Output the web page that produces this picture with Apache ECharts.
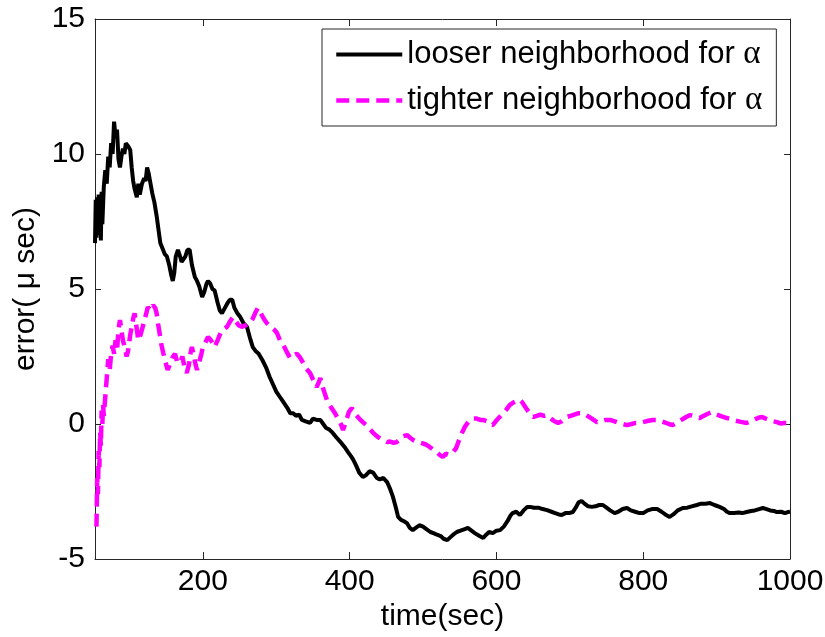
<!DOCTYPE html>
<html>
<head>
<meta charset="utf-8">
<script src="https://cdn.jsdelivr.net/npm/echarts@6/dist/echarts.min.js"></script>
<style>html,body{margin:0;padding:0;background:#fff;}#c{width:825px;height:637px;}</style>
</head>
<body>
<div id="c"></div>
<script>
// ---- data ----
const seriesNames = ["looser neighborhood for \u03b1", "tighter neighborhood for \u03b1"];
const xTicks = [200, 400, 600, 800, 1000];
const yTicks = [-5, 0, 5, 10, 15];

const blackTime = [53,54,55,56,57,58,59,60,61,62,63,65,67,69,71,73,75,77,79,81,83,85,87,89,91,93,95,98,101,103,105,107,110,112,114,117,120,122,124,126,128,131,134,137,140,142,145,148,151,154,157,159,161,163,166,169,171,173,176,179,182,185,189,192,195,199,202,205,207,210,213,216,220,223,226,230,234,237,240,243,247,251,255,260,264,268,272,276,281,286,291,295,300,305,310,315,319,323,327,331,335,340,346,350,355,360,364,368,372,377,382,387,393,398,402,405,409,413,418,422,427,432,437,441,446,451,455,459,463,466,470,474,478,482,486,490,495,500,505,510,515,519,524,528,533,537,541,546,551,556,561,566,571,577,582,586,590,595,600,605,610,615,619,622,627,632,637,642,646,651,657,663,669,675,680,685,689,694,699,704,708,712,716,720,725,730,735,740,745,750,755,761,766,772,778,783,789,795,800,806,812,819,825,830,836,841,847,854,860,866,873,879,885,891,897,904,910,914,918,924,930,935,941,947,952,958,963,968,973,978,982,988,993,997,1000];
const blackErr = [6.7,8.3,6.9,8.4,7.0,8.5,7.2,8.4,6.8,8.6,7.4,8.8,9.4,8.9,9.9,9.5,10.4,10.0,11.2,10.6,10.9,9.8,9.5,9.9,10.2,10.0,10.4,10.3,10.15,9.5,9.0,8.7,8.4,8.9,8.5,8.9,9.1,9.0,9.5,9.3,9.0,8.55,8.2,7.7,7.1,6.7,6.5,6.3,6.2,5.9,5.5,5.3,5.6,6.2,6.45,6.2,6.0,5.95,6.2,6.45,6.45,5.9,5.45,5.3,5.1,4.7,4.9,5.2,5.3,5.2,5.0,4.95,4.5,4.2,4.1,4.3,4.5,4.6,4.6,4.3,4.1,3.96,3.75,3.6,3.2,2.85,2.7,2.6,2.37,2.1,1.74,1.5,1.2,1.0,0.8,0.6,0.4,0.4,0.3,0.35,0.15,0.1,0.04,0.2,0.15,0.15,0.0,-0.15,-0.2,-0.33,-0.5,-0.65,-0.85,-1.05,-1.2,-1.33,-1.55,-1.8,-1.96,-1.9,-1.75,-1.8,-2.0,-2.05,-2.0,-2.15,-2.4,-2.7,-3.1,-3.44,-3.55,-3.6,-3.67,-3.85,-3.93,-3.85,-3.75,-3.8,-3.9,-4.0,-4.05,-4.1,-4.15,-4.25,-4.3,-4.2,-4.1,-4.0,-3.95,-3.9,-3.85,-3.95,-4.05,-4.15,-4.22,-4.1,-4.0,-4.04,-3.95,-3.93,-3.8,-3.6,-3.4,-3.3,-3.25,-3.37,-3.2,-3.07,-3.07,-3.1,-3.1,-3.15,-3.19,-3.25,-3.3,-3.35,-3.37,-3.3,-3.3,-3.26,-3.1,-2.9,-2.85,-2.95,-3.05,-3.07,-3.05,-3.0,-3.0,-3.1,-3.2,-3.3,-3.25,-3.15,-3.11,-3.2,-3.25,-3.3,-3.3,-3.2,-3.15,-3.15,-3.25,-3.35,-3.44,-3.35,-3.2,-3.11,-3.1,-3.05,-3.0,-2.95,-2.95,-2.93,-3.0,-3.07,-3.15,-3.25,-3.3,-3.3,-3.28,-3.3,-3.26,-3.22,-3.2,-3.15,-3.11,-3.15,-3.2,-3.22,-3.26,-3.25,-3.3,-3.26,-3.25];

const pinkTime = [55,56,57,58,59,60,61,62,63,64,65,67,69,71,73,75,77,79,81,83,85,87,89,91,94,96,98,101,103,105,107,109,112,115,118,121,125,129,132,135,137,139,141,143,146,149,152,155,159,162,165,169,172,175,178,181,183,185,188,190,192,195,198,200,203,207,211,214,216,220,223,226,230,233,237,241,245,249,253,258,264,268,272,275,279,283,287,292,297,301,305,310,315,319,324,328,332,337,341,346,351,355,358,360,364,369,374,380,385,388,391,395,399,403,408,413,418,423,428,432,437,442,446,451,455,460,464,469,473,478,482,487,492,497,503,509,514,519,523,527,531,536,541,545,549,553,557,561,564,568,573,578,582,587,591,595,599,604,609,614,618,622,627,631,635,640,645,650,655,660,665,669,674,679,684,689,693,696,701,706,712,718,724,730,737,743,749,755,761,766,772,778,784,790,795,801,807,813,819,825,830,835,840,846,852,858,864,870,877,882,888,894,900,907,914,920,926,933,941,947,953,958,962,967,972,977,982,987,992,996,1000];
const pinkErr = [-3.8,-2.0,-2.6,-1.0,-1.6,-0.3,-0.8,0.5,0.0,0.7,0.3,1.0,1.7,2.4,2.0,2.6,2.9,2.6,3.1,2.7,3.5,3.85,3.5,3.1,2.8,2.5,2.7,3.3,3.6,3.9,4.1,3.7,3.1,3.3,3.6,3.9,4.33,4.2,4.4,4.3,4.1,3.7,3.37,3.0,2.63,2.3,2.0,2.2,2.48,2.6,2.3,2.26,2.5,2.1,1.89,2.2,2.6,2.85,2.5,2.2,2.0,2.3,2.6,2.85,3.0,3.22,3.1,2.95,2.85,3.1,3.3,3.48,3.55,3.6,3.8,3.96,3.8,3.65,3.6,3.65,3.74,3.9,4.15,4.3,4.1,3.9,3.74,3.6,3.5,3.37,3.1,2.9,2.63,2.44,2.55,2.6,2.48,2.25,2.05,1.89,1.6,1.37,1.55,1.7,1.3,0.89,0.65,0.4,0.15,0.0,-0.22,0.1,0.45,0.59,0.35,0.2,0.07,-0.05,-0.2,-0.33,-0.45,-0.55,-0.6,-0.67,-0.65,-0.7,-0.67,-0.55,-0.45,-0.41,-0.5,-0.6,-0.67,-0.7,-0.75,-0.85,-0.95,-1.05,-1.15,-1.22,-1.1,-1.15,-1.04,-0.9,-0.6,-0.33,-0.1,0.05,0.15,0.2,0.2,0.15,0.15,0.1,0.0,-0.04,0.1,0.25,0.4,0.55,0.7,0.78,0.85,0.9,0.81,0.6,0.4,0.26,0.3,0.35,0.3,0.33,0.2,0.1,0.04,0.1,0.2,0.26,0.3,0.35,0.4,0.4,0.3,0.2,0.07,0.1,0.15,0.15,0.1,0.05,0.0,-0.04,0.0,0.04,0.04,0.08,0.12,0.15,0.15,0.1,0.05,0.0,-0.04,0.05,0.15,0.25,0.33,0.28,0.22,0.3,0.38,0.44,0.35,0.28,0.22,0.18,0.12,0.08,0.04,0.1,0.18,0.24,0.26,0.2,0.15,0.1,0.07,0.02,0.04,0.04,0.0];

// ---- chart ----
const zip = (xs, ys) => xs.map((x, i) => [x, ys[i]]);
const FONT = "'Liberation Sans', Arial, sans-serif";
const axisColor = '#262626';
const chart = echarts.init(document.getElementById('c'), null, {renderer: 'canvas'});

const baseX = {
  type: 'value', min: 53, max: 1000,
  axisLine: {show: true, onZero: false, lineStyle: {color: axisColor, width: 1}},
  axisTick: {show: true, inside: true, length: 7, customValues: xTicks, lineStyle: {color: axisColor}},
  splitLine: {show: false}
};
const baseY = {
  type: 'value', min: -5, max: 15, interval: 5,
  axisLine: {show: true, onZero: false, lineStyle: {color: axisColor, width: 1}},
  axisTick: {show: true, inside: true, length: 6, lineStyle: {color: axisColor}},
  splitLine: {show: false}
};

const blackStyle = {color: '#000', width: 4, type: 'solid'};
const pinkStyle = {color: '#ff00ff', width: 4.5, type: [13, 7]};
const hiddenSym = {color: 'transparent', borderColor: 'transparent', borderWidth: 0, opacity: 0};

chart.setOption({
  animation: false,
  backgroundColor: '#fff',
  grid: {left: 95, right: 35, top: 19, bottom: 78, containLabel: false, outerBoundsMode: 'none'},
  xAxis: [
    Object.assign({}, baseX, {
      position: 'bottom',
      name: 'time(sec)', nameLocation: 'middle', nameGap: 40,
      nameTextStyle: {fontFamily: FONT, fontSize: 30, color: '#000'},
      axisLabel: {show: true, customValues: xTicks, margin: 8, fontFamily: FONT, fontSize: 30, color: '#000',
        formatter: v => String(v)}
    }),
    Object.assign({}, baseX, {position: 'top', axisLabel: {show: false}})
  ],
  yAxis: [
    Object.assign({}, baseY, {
      position: 'left',
      name: 'error( \u03bc sec)', nameLocation: 'middle', nameGap: 44,
      nameTextStyle: {fontFamily: FONT, fontSize: 30, color: '#000'},
      axisLabel: {show: true, margin: 10, fontFamily: FONT, fontSize: 30, color: '#000', formatter: v => String(v)}
    }),
    Object.assign({}, baseY, {position: 'right', axisLabel: {show: false}})
  ],
  legend: {
    orient: 'vertical', left: 322, top: 29,
    padding: [9, 14, 9, 12], itemGap: 13,
    itemWidth: 66, itemHeight: 14,
    borderColor: axisColor, borderWidth: 1, backgroundColor: '#fff',
    selectedMode: false,
    itemStyle: hiddenSym,
    data: [
      {name: seriesNames[0], lineStyle: blackStyle, itemStyle: hiddenSym},
      {name: seriesNames[1], lineStyle: pinkStyle, itemStyle: hiddenSym}
    ],
    formatter: n => n.replace('\u03b1', '{a|\u03b1}'),
    textStyle: {fontFamily: FONT, fontSize: 31, color: '#000',
      rich: {a: {fontFamily: "'Liberation Serif', serif", fontSize: 33, color: '#000'}}}
  },
  series: [
    {
      name: seriesNames[0], type: 'line', data: zip(blackTime, blackErr),
      symbol: 'none', showSymbol: false, smooth: false, clip: true,
      lineStyle: blackStyle,
      itemStyle: {color: '#000'}, z: 2
    },
    {
      name: seriesNames[1], type: 'line', data: zip(pinkTime, pinkErr),
      symbol: 'none', showSymbol: false, smooth: false, clip: true,
      lineStyle: pinkStyle,
      itemStyle: {color: '#ff00ff'}, z: 3
    }
  ]
});
</script>
</body>
</html>
